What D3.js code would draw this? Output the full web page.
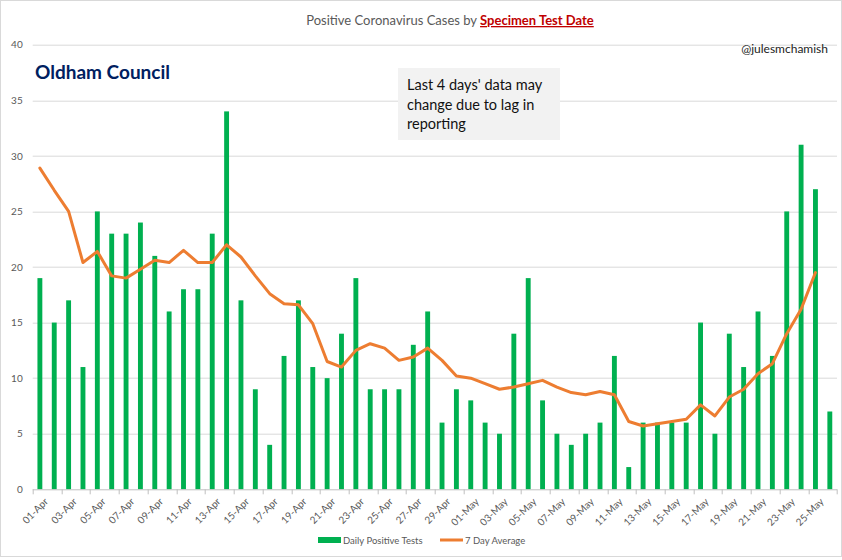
<!DOCTYPE html>
<html>
<head>
<meta charset="utf-8">
<script src="https://cdn.jsdelivr.net/npm/d3@7"></script>
<style>
  body { margin: 0; background: #fff; }
  text { font-family: Lato, "Open Sans", sans-serif; }
</style>
</head>
<body>
<div id="chart"></div>
<script>
var svgWidth = 842;
var svgHeight = 560;

var margin = { top: 44.7, right: 5, bottom: 71, left: 32.7 };
var chartWidth = 837 - margin.left;
var chartHeight = 489.3 - margin.top;

// dates 01-Apr .. 26-May
var aprDays = d3.range(1, 31).map(d => (d < 10 ? "0" + d : "" + d) + "-Apr");
var mayDays = d3.range(1, 27).map(d => (d < 10 ? "0" + d : "" + d) + "-May");
var dates = aprDays.concat(mayDays);

var dailyTests = [19, 15, 17, 11, 25, 23, 23, 24, 21, 16, 18, 18, 23, 34, 17, 9, 4, 12, 17, 11,
  10, 14, 19, 9, 9, 9, 13, 16, 6, 9,
  8, 6, 5, 14, 19, 8, 5, 4, 5, 6, 12, 2, 6, 6, 6, 6, 15, 5, 14, 11, 16, 12, 25, 31, 27, 7];

var sevenDayAvg = [28.9, 26.9, 25.0, 20.4, 21.4, 19.2, 19.0, 19.8, 20.6, 20.4, 21.5, 20.4, 20.4, 22.0, 20.9,
  19.2, 17.6, 16.7, 16.6, 14.9, 11.5, 11.0, 12.5, 13.1, 12.7, 11.6, 11.9, 12.7, 11.6, 10.2,
  10.0, 9.5, 9.0, 9.2, 9.5, 9.8, 9.2, 8.7, 8.5, 8.8, 8.5, 6.1, 5.7, 5.9, 6.1, 6.3, 7.6, 6.6,
  8.3, 9.0, 10.4, 11.3, 14.0, 16.2, 19.5, null];

var yTicks = [0, 5, 10, 15, 20, 25, 30, 35, 40];

var svg = d3.select("#chart")
  .append("svg")
  .attr("width", svgWidth)
  .attr("height", svgHeight);

// outer chart border
svg.append("rect")
  .attr("x", 0.5).attr("y", 0.5)
  .attr("width", svgWidth - 1).attr("height", 556)
  .attr("fill", "none")
  .attr("stroke", "#d9d9d9");

var chartGroup = svg.append("g")
  .attr("transform", `translate(${margin.left}, ${margin.top})`);

var xScale = d3.scaleBand()
  .domain(dates)
  .range([0, chartWidth])
  .paddingInner(0.66)
  .paddingOuter(0.33);

var yScale = d3.scaleLinear()
  .domain([0, 40])
  .range([chartHeight, 0]);

// gridlines
chartGroup.append("g")
  .selectAll("line")
  .data(yTicks.filter(d => d > 0))
  .enter()
  .append("line")
  .attr("x1", 0)
  .attr("x2", chartWidth)
  .attr("y1", d => Math.round(yScale(d)) + 0.5)
  .attr("y2", d => Math.round(yScale(d)) + 0.5)
  .attr("stroke", "#d9d9d9")
  .attr("stroke-width", 1);

// y axis labels
var leftAxis = d3.axisLeft(yScale).tickValues(yTicks).tickSize(0).tickPadding(10);
var yAxis = chartGroup.append("g").call(leftAxis);
yAxis.select(".domain").remove();
yAxis.selectAll("text")
  .attr("fill", "#595959")
  .style("font-size", "10px");

// bars
chartGroup.selectAll(".bar")
  .data(dates)
  .enter()
  .append("rect")
  .attr("class", "bar")
  .attr("x", d => xScale(d))
  .attr("width", xScale.bandwidth())
  .attr("y", (d, i) => yScale(dailyTests[i]))
  .attr("height", (d, i) => chartHeight - yScale(dailyTests[i]))
  .attr("fill", "#00b050");

// x axis
var step = xScale.step();
var xAxis = chartGroup.append("g")
  .attr("transform", `translate(0, ${chartHeight})`);
xAxis.append("line")
  .attr("x1", 0).attr("x2", chartWidth)
  .attr("y1", 0.5).attr("y2", 0.5)
  .attr("stroke", "#bfbfbf");
xAxis.selectAll(".tick-mark")
  .data(d3.range(0, dates.length + 1, 2))
  .enter()
  .append("line")
  .attr("x1", d => Math.round(d * step) + 0.5)
  .attr("x2", d => Math.round(d * step) + 0.5)
  .attr("y1", 0).attr("y2", 5)
  .attr("stroke", "#bfbfbf");
xAxis.selectAll(".xlabel")
  .data(dates.filter((d, i) => i % 2 == 0))
  .enter()
  .append("text")
  .attr("text-anchor", "end")
  .attr("transform", d => `translate(${xScale(d) + xScale.bandwidth() / 2 + 4}, 8) rotate(-45)`)
  .attr("dy", "0.7em")
  .attr("fill", "#595959")
  .style("font-size", "10px")
  .text(d => d);

// 7 day average line
var line = d3.line()
  .defined(d => d != null)
  .x((d, i) => xScale(dates[i]) + xScale.bandwidth() / 2)
  .y(d => yScale(d));

chartGroup.append("path")
  .datum(sevenDayAvg)
  .attr("d", line)
  .attr("fill", "none")
  .attr("stroke", "#ed7d31")
  .attr("stroke-width", 3)
  .attr("stroke-linejoin", "round")
  .attr("stroke-linecap", "round");

// title
var title = svg.append("text")
  .attr("x", 450)
  .attr("y", 25)
  .attr("text-anchor", "middle")
  .style("font-size", "13px");
title.append("tspan").attr("fill", "#595959").text("Positive Coronavirus Cases by ");
title.append("tspan")
  .attr("fill", "#c00000")
  .attr("font-weight", "bold")
  .attr("text-decoration", "underline")
  .text("Specimen Test Date");

svg.append("text")
  .attr("x", 35).attr("y", 79)
  .attr("fill", "#002060")
  .attr("font-weight", "bold")
  .style("font-size", "19px")
  .text("Oldham Council");

svg.append("text")
  .attr("x", 828).attr("y", 53)
  .attr("text-anchor", "end")
  .attr("fill", "#222")
  .style("font-size", "12px")
  .text("@julesmchamish");

// annotation box
svg.append("rect")
  .attr("x", 398).attr("y", 68)
  .attr("width", 162).attr("height", 72)
  .attr("fill", "#f2f2f2");
var note = svg.append("text")
  .attr("x", 407).attr("y", 90)
  .attr("fill", "#111")
  .style("font-size", "14.5px");
["Last 4 days' data may", "change due to lag in", "reporting"].forEach(function(t, i) {
  note.append("tspan").attr("x", 407).attr("dy", i == 0 ? 0 : 19.5).text(t);
});

// legend
var legend = svg.append("g");
legend.append("rect")
  .attr("x", 318).attr("y", 537)
  .attr("width", 23).attr("height", 6)
  .attr("fill", "#00b050");
legend.append("text")
  .attr("x", 343).attr("y", 543.5)
  .attr("fill", "#595959")
  .style("font-size", "9.5px")
  .text("Daily Positive Tests");
legend.append("line")
  .attr("x1", 440).attr("x2", 463)
  .attr("y1", 540).attr("y2", 540)
  .attr("stroke", "#ed7d31")
  .attr("stroke-width", 3);
legend.append("text")
  .attr("x", 465).attr("y", 543.5)
  .attr("fill", "#595959")
  .style("font-size", "9.5px")
  .text("7 Day Average");
</script>
</body>
</html>
